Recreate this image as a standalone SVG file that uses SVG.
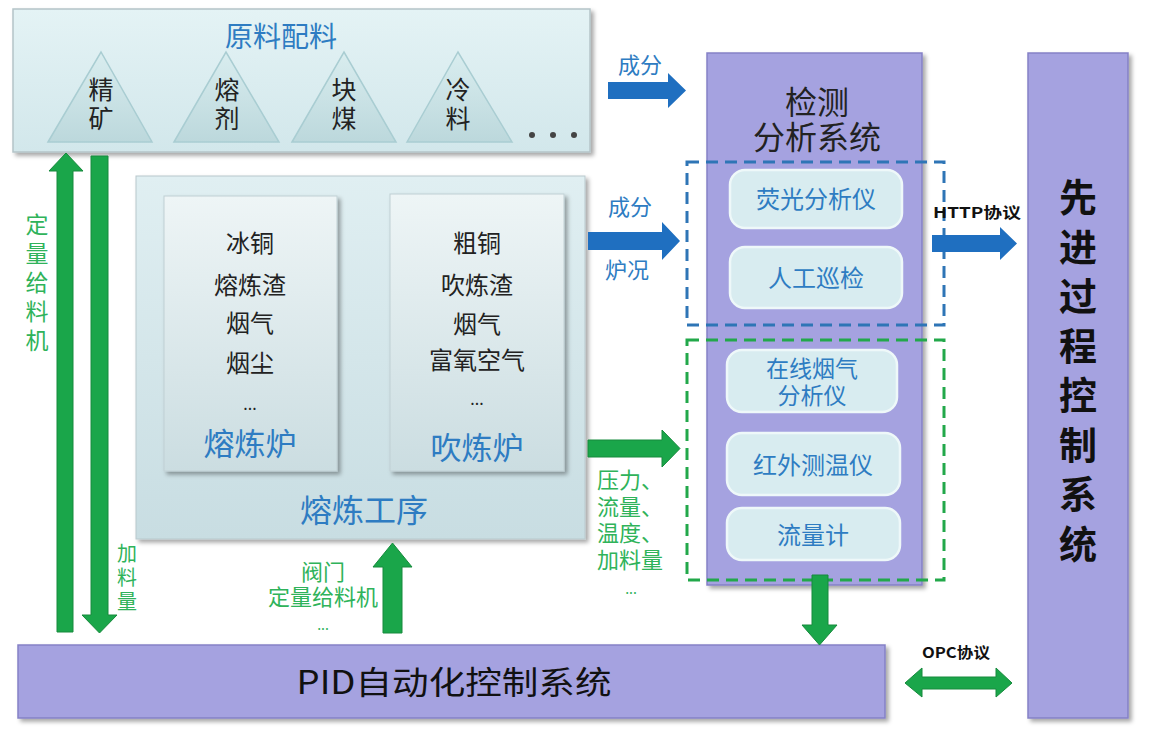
<svg xmlns="http://www.w3.org/2000/svg" width="1176" height="742" viewBox="0 0 1176 742">
<defs>
<linearGradient id="gTop" x1="0" y1="0" x2="0" y2="1"><stop offset="0" stop-color="#e4f3f5"/><stop offset="1" stop-color="#d2e7eb"/></linearGradient>
<linearGradient id="gMid" x1="0" y1="0" x2="0" y2="1"><stop offset="0" stop-color="#e0eff2"/><stop offset="1" stop-color="#c8dde2"/></linearGradient>
<linearGradient id="gInner" x1="0" y1="0" x2="0" y2="1"><stop offset="0" stop-color="#eef5f6"/><stop offset="1" stop-color="#cbdde1"/></linearGradient>
<linearGradient id="gTri" x1="0" y1="0" x2="0" y2="1"><stop offset="0" stop-color="#d9edef"/><stop offset="1" stop-color="#bcd8dc"/></linearGradient>
<filter id="sh" x="-10%" y="-10%" width="130%" height="130%"><feDropShadow dx="3" dy="3" stdDeviation="2" flood-color="#000" flood-opacity="0.35"/></filter>
</defs>
<style>
text{font-family:"Noto Sans CJK SC","Noto Sans",sans-serif;}
.blk{fill:#222;text-anchor:middle;}
.blu{fill:#2e7cc2;text-anchor:middle;}
.grn{fill:#2fb35a;}
.tri{fill:url(#gTri);stroke:#a9cdd2;stroke-width:1.5;}
.pur{fill:#a5a2e0;stroke:#8581c6;stroke-width:1.5;filter:url(#sh);}
.lb{fill:#d8ecf0;stroke:#eef8f9;stroke-width:2.5;}
.barr{fill:#1f6fc0;}
.garr{fill:#1aa64a;stroke:#168a3c;stroke-width:1;}
.bold{font-weight:bold;fill:#111;}
</style>
<rect width="1176" height="742" fill="#fff"/>

<g id="raw">
<rect x="13" y="9" width="577" height="143" fill="url(#gTop)" stroke="#b4c4c8" stroke-width="1.5" filter="url(#sh)"/>
<text class="blu" x="281" y="47" font-size="28">原料配料</text>
<polygon class="tri" points="48,142 101,52 152,142"/>
<polygon class="tri" points="174,142 226,52 279,142"/>
<polygon class="tri" points="292,142 344,52 396,142"/>
<polygon class="tri" points="407,142 458,52 512,142"/>
<g font-size="25">
<text class="blk" x="101" y="99">精</text><text class="blk" x="101" y="128">矿</text>
<text class="blk" x="227" y="99">熔</text><text class="blk" x="227" y="128">剂</text>
<text class="blk" x="344" y="99">块</text><text class="blk" x="344" y="128">煤</text>
<text class="blk" x="458" y="99">冷</text><text class="blk" x="458" y="128">料</text>
</g>
<circle cx="532" cy="135" r="3" fill="#444"/><circle cx="553" cy="135" r="3" fill="#444"/><circle cx="574" cy="135" r="3" fill="#444"/>
</g>

<g id="smelting">
<rect x="136" y="176" width="449" height="363" fill="url(#gMid)" stroke="#b8c8cc" stroke-width="1" filter="url(#sh)"/>
<text class="blu" x="364" y="522" font-size="32">熔炼工序</text>
</g>

<g id="furnace1" font-size="24">
<rect x="164" y="196" width="173" height="275" fill="url(#gInner)" stroke="#c0d0d4" stroke-width="1" filter="url(#sh)"/>
<text class="blk" x="250" y="252">冰铜</text>
<text class="blk" x="250" y="294">熔炼渣</text>
<text class="blk" x="250" y="332">烟气</text>
<text class="blk" x="250" y="372">烟尘</text>
<text class="blk" x="250" y="410" font-size="16">...</text>
<text class="blu" x="250" y="455" font-size="31">熔炼炉</text>
</g>

<g id="furnace2" font-size="24">
<rect x="390" y="194" width="174" height="277" fill="url(#gInner)" stroke="#c0d0d4" stroke-width="1" filter="url(#sh)"/>
<text class="blk" x="477" y="252">粗铜</text>
<text class="blk" x="477" y="294">吹炼渣</text>
<text class="blk" x="477" y="333">烟气</text>
<text class="blk" x="477" y="369">富氧空气</text>
<text class="blk" x="477" y="405" font-size="16">...</text>
<text class="blu" x="477" y="459" font-size="31">吹炼炉</text>
</g>

<g id="detect">
<rect class="pur" x="707" y="53" width="215" height="532"/>
<text class="blk" x="817" y="114" font-size="32">检测</text>
<text class="blk" x="817" y="149" font-size="32">分析系统</text>
<rect x="687" y="162" width="257" height="163" fill="none" stroke="#2e75b6" stroke-width="3" stroke-dasharray="12 7"/>
<rect x="687" y="340" width="257" height="240" fill="none" stroke="#22a84a" stroke-width="3" stroke-dasharray="12 7"/>
</g>
<g id="xrf"><rect class="lb" x="730" y="170" width="172" height="58" rx="15"/><text class="blu" x="816" y="208" font-size="24">荧光分析仪</text></g>
<g id="patrol"><rect class="lb" x="730" y="247" width="172" height="61" rx="15"/><text class="blu" x="816" y="287" font-size="24">人工巡检</text></g>
<g id="gas"><rect class="lb" x="727" y="350" width="170" height="62" rx="15"/><text class="blu" x="812" y="377" font-size="23">在线烟气</text><text class="blu" x="812" y="404" font-size="23">分析仪</text></g>
<g id="ir"><rect class="lb" x="727" y="433" width="173" height="62" rx="15"/><text class="blu" x="813" y="474" font-size="24">红外测温仪</text></g>
<g id="flow"><rect class="lb" x="727" y="508" width="173" height="52" rx="15"/><text class="blu" x="813" y="544" font-size="24">流量计</text></g>

<g id="apc">
<rect class="pur" x="1028" y="53" width="100" height="665"/>
<g class="bold" font-size="38" text-anchor="middle">
<text x="1078" y="211">先</text><text x="1078" y="261">进</text><text x="1078" y="310">过</text><text x="1078" y="360">程</text>
<text x="1078" y="409">控</text><text x="1078" y="459">制</text><text x="1078" y="508">系</text><text x="1078" y="558">统</text>
</g>
</g>

<g id="pid">
<rect class="pur" x="18" y="645" width="867" height="73"/>
<text x="454" y="694" font-size="32" fill="#111" text-anchor="middle" textLength="315" lengthAdjust="spacingAndGlyphs">PID自动化控制系统</text>
</g>

<g id="connectors">
<polygon class="barr" points="608,82 668,82 668,73 686,90.5 668,108 668,99 608,99"/>
<polygon class="barr" points="588,232 662,232 662,222 680,241 662,260 662,250 588,250"/>
<polygon class="barr" points="932,235 1000,235 1000,227 1017,243.5 1000,260 1000,252 932,252"/>
<polygon class="garr" points="588,440 662,440 662,430 680,448.5 662,467 662,457 588,457"/>
<polygon class="garr" points="812,575 828,575 828,625 837,625 819.5,645 802,625 812,625"/>
<polygon class="garr" points="383,633 383,567 373,567 392.5,543 412,567 402,567 402,633"/>
<polygon class="garr" points="57,632 57,171 49,171 66,153 83,171 73,171 73,632"/>
<polygon class="garr" points="91,156 108,156 108,615 117,615 99.5,633 82,615 91,615"/>
<polygon class="garr" points="905,683 922,668 922,677 996,677 996,668 1012,683 996,697 996,689 922,689 922,697"/>
<text class="blu" x="640" y="73" font-size="22">成分</text>
<text class="blu" x="630" y="215" font-size="22">成分</text>
<text class="blu" x="627" y="278" font-size="22">炉况</text>
<text class="bold" x="933" y="218" font-size="15" textLength="88" lengthAdjust="spacingAndGlyphs">HTTP协议</text>
<text class="bold" x="922" y="658" font-size="15" textLength="68" lengthAdjust="spacingAndGlyphs">OPC协议</text>
<g font-size="22">
<text class="grn" x="597" y="488">压力、</text>
<text class="grn" x="597" y="515">流量、</text>
<text class="grn" x="597" y="541">温度、</text>
<text class="grn" x="597" y="568">加料量</text>
<text class="grn" x="631" y="594" font-size="14" text-anchor="middle">...</text>
<text class="grn" x="323" y="580" text-anchor="middle">阀门</text>
<text class="grn" x="323" y="605" text-anchor="middle">定量给料机</text>
<text class="grn" x="323" y="630" font-size="14" text-anchor="middle">...</text>
</g>
<g font-size="23" text-anchor="middle">
<text class="grn" x="37" y="233">定</text><text class="grn" x="37" y="262">量</text><text class="grn" x="37" y="291">给</text><text class="grn" x="37" y="320">料</text><text class="grn" x="37" y="349">机</text>
</g>
<g font-size="20" text-anchor="middle">
<text class="grn" x="127" y="561">加</text><text class="grn" x="127" y="585">料</text><text class="grn" x="127" y="609">量</text>
</g>
</g>
</svg>
